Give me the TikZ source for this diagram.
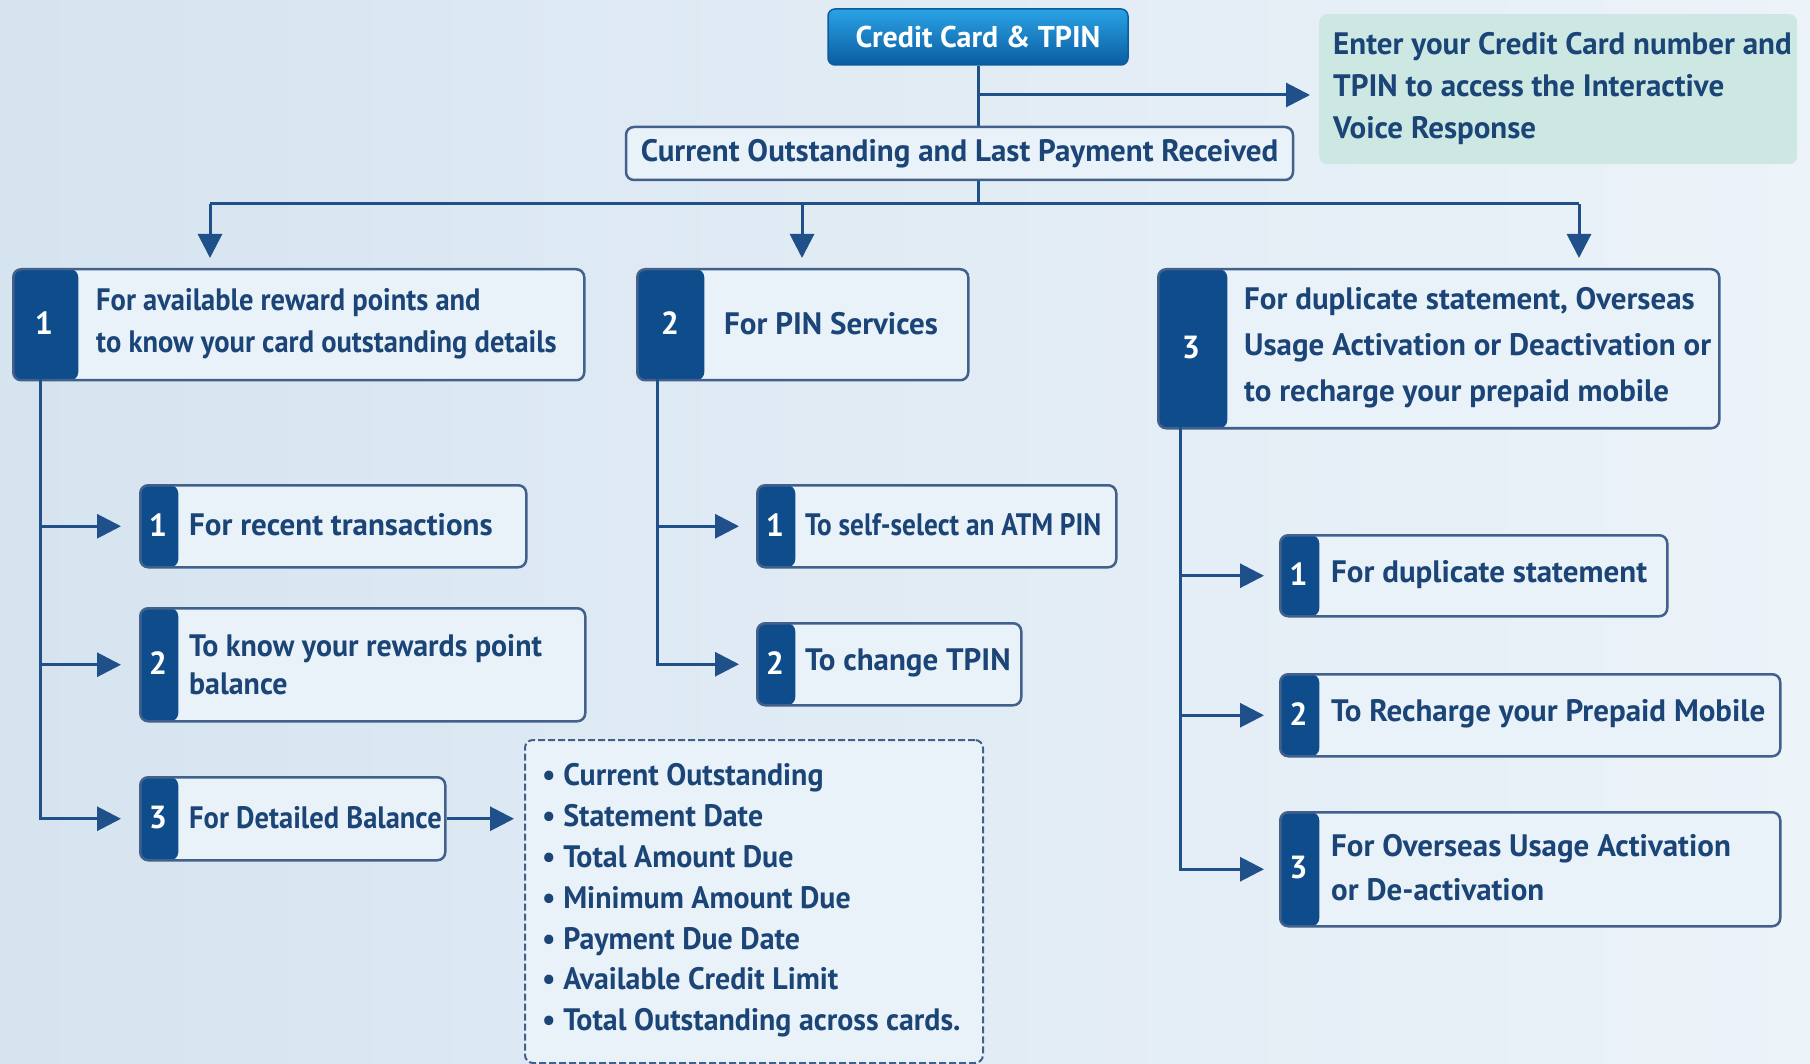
\documentclass[tikz,border=0pt]{standalone}
\usepackage{fontspec}
\setmainfont{PT Sans}
\newfontfamily\narA{PT Sans}[FakeStretch=0.92]
\newfontfamily\narB{PT Sans}[FakeStretch=0.88]
\newfontfamily\narC{PT Sans}[FakeStretch=0.965]
\usetikzlibrary{arrows.meta,calc}
\definecolor{navy}{HTML}{1B4477}
\definecolor{numc}{HTML}{0E4C8C}
\definecolor{bord}{HTML}{41618C}
\definecolor{boxfill}{HTML}{E9F2F9}
\definecolor{linec}{HTML}{1F5089}
\definecolor{greenf}{HTML}{CDE8E3}
\definecolor{topA}{HTML}{2AA3E6}
\definecolor{topB}{HTML}{0A5C9F}
\definecolor{bgL}{HTML}{D6E4F0}
\definecolor{bgR}{HTML}{ECF3F9}
\tikzset{
 box/.style={draw=bord, line width=2.5pt, fill=boxfill, rounded corners=8pt, inner sep=0pt, anchor=north west},
 nbox/.style={box, path picture={\fill[numc] (path picture bounding box.north west) rectangle ([xshift=#1]path picture bounding box.south west);}},
 numtxt/.style={text=white, font=\bfseries\fontsize{32}{32}\selectfont, inner sep=0pt},
 lbl/.style={text=navy, font=\bfseries\fontsize{31}{42}\selectfont, anchor=west, align=left, inner sep=0pt},
 arr/.style={draw=linec, line width=3pt, -{Triangle[length=24pt,width=24pt]}},
 ln/.style={draw=linec, line width=3pt},
}
\begin{document}
\begin{tikzpicture}[x=1pt,y=-1pt]
\fill[left color=bgL, right color=bgR] (0,0) rectangle (1810,1064);
\useasboundingbox (0,0) rectangle (1810,1064);

% top
\node[draw=topB, line width=1.5pt, rounded corners=7pt, top color=topA, bottom color=topB, minimum width=300, minimum height=56, text=white, font=\bfseries\fontsize{30}{30}\selectfont, inner sep=0pt] (ct) at (978,37) {Credit Card \& TPIN};
\node[fill=greenf, rounded corners=8pt, minimum width=478, minimum height=150, anchor=north west, inner sep=0pt] (gr) at (1319,14) {};
\node[lbl] (grt) at (1333,89) {Enter your Credit Card number and\\TPIN to access the Interactive\\Voice Response};
\node[box, anchor=center, minimum width=667, minimum height=53, text=navy, font=\bfseries\fontsize{31}{31}\selectfont] (cur) at (959.5,153.5) {Current Outstanding and Last Payment Received};

\coordinate (j1) at (978,95);
\coordinate (busc) at (978,204);
\coordinate (bus1) at (210,204);
\coordinate (bus2) at (802,204);
\coordinate (bus3) at (1579,204);
\draw[ln] (ct.south) -- (ct.south |- cur.north);
\draw[ln] (ct.south |- cur.south) -- (busc);
\draw[arr, shorten >=9pt] (j1) -- (j1 -| gr.west);
\draw[ln] (bus1) -- (bus3);

% main boxes
\node[nbox=65, minimum width=571, minimum height=111] (b1) at (12,268) {};
\node[numtxt] (n1) at (44,323.5) {1};
\node[lbl, font=\narA\bfseries\fontsize{31}{42}\selectfont] (t1) at (96,323.5) {For available reward points and\\to know your card outstanding details};
\node[nbox=67, minimum width=331, minimum height=111] (b2) at (636,268) {};
\node[numtxt] (n2) at (670,323.5) {2};
\node[lbl] (t2) at (724,323.5) {For PIN Services};
\node[nbox=69, minimum width=561, minimum height=159] (b3) at (1157,268) {};
\node[numtxt] (n3) at (1191,347.5) {3};
\node[lbl, font=\bfseries\fontsize{31}{46}\selectfont] (t3) at (1244,347.5) {For duplicate statement, Overseas\\Usage Activation or Deactivation or\\to recharge your prepaid mobile};

\draw[arr, shorten >=10pt] (bus1) -- (bus1 |- b1.north);
\draw[arr, shorten >=10pt] (bus2) -- (bus2 |- b2.north);
\draw[arr, shorten >=10pt] (bus3) -- (bus3 |- b3.north);

% column 1
\node[nbox=38, minimum width=386, minimum height=82] (s11) at (139,484) {};
\node[numtxt] (m11) at (158,525) {1};
\node[lbl] (u11) at (189,525) {For recent transactions};
\node[nbox=38, minimum width=445, minimum height=113] (s12) at (139,607) {};
\node[numtxt] (m12) at (158,663.5) {2};
\node[lbl, font=\narC\bfseries\fontsize{31}{38}\selectfont] (u12) at (189,665) {To know your rewards point\\balance};
\node[nbox=38, minimum width=305, minimum height=83] (s13) at (139,776) {};
\node[numtxt] (m13) at (158,817.5) {3};
\node[lbl, font=\narA\bfseries\fontsize{31}{42}\selectfont] (u13) at (189,817.5) {For Detailed Balance};

\coordinate (L1) at (40,379);
\draw[arr, shorten >=18pt] (L1) |- (s13.west);
\draw[arr, shorten >=18pt] (L1 |- s11.west) -- (s11.west);
\draw[arr, shorten >=18pt] (L1 |- s12.west) -- (s12.west);

\node[box, dash pattern=on 7pt off 3pt, line width=2pt, minimum width=458, minimum height=323] (db) at (524,739) {};
\node[lbl, font=\narC\bfseries\fontsize{31}{40.8}\selectfont] (dbt) at (542,900.5) {• Current Outstanding\\• Statement Date\\• Total Amount Due\\• Minimum Amount Due\\• Payment Due Date\\• Available Credit Limit\\• Total Outstanding across cards.};
\draw[arr, shorten >=10pt] (s13.east) -- (s13.east -| db.west);

% column 2
\node[nbox=38, minimum width=359, minimum height=82] (s21) at (756,484) {};
\node[numtxt] (m21) at (775,525) {1};
\node[lbl, font=\narB\bfseries\fontsize{31}{42}\selectfont] (u21) at (805,525) {To self-select an ATM PIN};
\node[nbox=38, minimum width=264, minimum height=82] (s22) at (756,622) {};
\node[numtxt] (m22) at (775,663) {2};
\node[lbl] (u22) at (805,663) {To change TPIN};
\coordinate (L2) at (657,379);
\draw[arr, shorten >=17pt] (L2) |- (s22.west);
\draw[arr, shorten >=17pt] (L2 |- s21.west) -- (s21.west);

% column 3
\node[nbox=39, minimum width=387, minimum height=81] (s31) at (1279,534) {};
\node[numtxt] (m31) at (1298.5,574.5) {1};
\node[lbl] (u31) at (1331,574.5) {For duplicate statement};
\node[nbox=39, minimum width=500, minimum height=82] (s32) at (1279,673) {};
\node[numtxt] (m32) at (1298.5,714) {2};
\node[lbl] (u32) at (1331,714) {To Recharge your Prepaid Mobile};
\node[nbox=39, minimum width=500, minimum height=114] (s33) at (1279,811) {};
\node[numtxt] (m33) at (1298.5,868) {3};
\node[lbl, font=\bfseries\fontsize{31}{44}\selectfont] (u33) at (1331,868) {For Overseas Usage Activation\\or De-activation};
\coordinate (L3) at (1180,427);
\draw[arr, shorten >=15pt] (L3) |- (s33.west);
\draw[arr, shorten >=15pt] (L3 |- s31.west) -- (s31.west);
\draw[arr, shorten >=15pt] (L3 |- s32.west) -- (s32.west);
\end{tikzpicture}
\end{document}
